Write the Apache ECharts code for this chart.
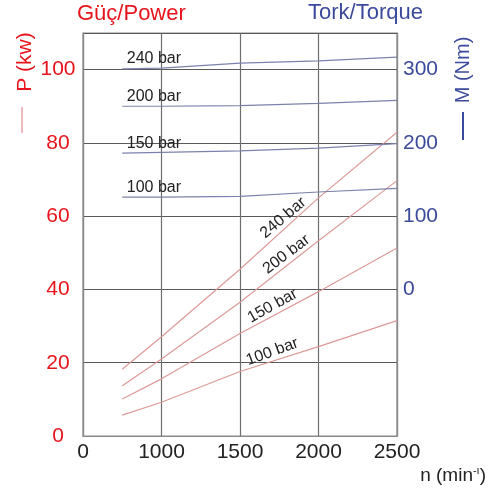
<!DOCTYPE html>
<html>
<head>
<meta charset="utf-8">
<script src="https://cdn.jsdelivr.net/npm/echarts@6/dist/echarts.min.js"></script>
<style>
  html, body { margin: 0; padding: 0; background: #fff; }
  #chart { width: 493px; height: 491px; }
</style>
</head>
<body>
<div id="chart"></div>
<script>
// Engine speed (min-1) at which each curve is read
const rpm = [750, 1000, 1500, 2000, 2500];

// Power curves, kW, one per working pressure
const power240 = [18.2, 27.1, 45.5, 65.0, 82.9];
const power200 = [13.7, 21.0, 36.5, 53.3, 69.7];
const power150 = [10.1, 15.6, 28.0, 39.4, 51.3];
const power100 = [5.7, 9.2, 17.6, 24.4, 31.5];

// Torque curves, Nm, one per working pressure
const torque240 = [301, 302, 309, 312, 317];
const torque200 = [250, 250, 251, 254, 258];
const torque150 = [186, 187, 189, 193, 199];
const torque100 = [126, 126, 127, 133, 138];

const pressureLabels = ['240 bar', '200 bar', '150 bar', '100 bar'];

// Axis ticks that carry a label
const rpmTicks = [500, 1000, 1500, 2000, 2500];
const rpmTickText = ['0', '1000', '1500', '2000', '2500'];
const powerTicks = [0, 20, 40, 60, 80, 100];
const torqueTicks = [0, 100, 200, 300];

// Where the slanted pressure labels sit along the power curves (rpm) and their angle
const powerLabelRpm = [1812, 1830, 1735, 1725];
const powerLabelAngle = [40, 37, 29, 20];

const FONT = '"Liberation Sans", Arial, sans-serif';
const RED = '#e8141c';
const BLUE = '#3c4a9c';
const POWER_LINE = '#dc9a98';
const TORQUE_LINE = '#7c82ac';

function interp(xs, ys, x) {
  for (let i = 0; i < xs.length - 1; i++) {
    if (x >= xs[i] && x <= xs[i + 1]) {
      const t = (x - xs[i]) / (xs[i + 1] - xs[i]);
      return ys[i] + t * (ys[i + 1] - ys[i]);
    }
  }
  return ys[ys.length - 1];
}

const powerSets = [power240, power200, power150, power100];
const torqueSets = [torque240, torque200, torque150, torque100];

const series = [];

powerSets.forEach((vals, i) => {
  const x = powerLabelRpm[i];
  series.push({
    type: 'line',
    name: 'P ' + pressureLabels[i],
    xAxisIndex: 0,
    yAxisIndex: 0,
    data: rpm.map((r, k) => [r, vals[k]]),
    showSymbol: false,
    symbol: 'none',
    lineStyle: { color: POWER_LINE, width: 1.2 },
    z: 3,
    silent: true,
    markPoint: {
      symbol: 'circle',
      symbolSize: 1,
      itemStyle: { color: 'rgba(0,0,0,0)' },
      silent: true,
      data: [{
        coord: [x, interp(rpm, vals, x)],
        label: {
          show: true,
          position: 'inside',
          rotate: powerLabelAngle[i],
          offset: [0, -9],
          formatter: pressureLabels[i],
          color: '#222',
          fontSize: 16,
          fontFamily: FONT
        }
      }]
    }
  });
});

torqueSets.forEach((vals, i) => {
  series.push({
    type: 'line',
    name: 'M ' + pressureLabels[i],
    xAxisIndex: 0,
    yAxisIndex: 1,
    data: rpm.map((r, k) => [r, vals[k]]),
    showSymbol: false,
    symbol: 'none',
    lineStyle: { color: TORQUE_LINE, width: 1.2 },
    z: 3,
    silent: true,
    markPoint: {
      symbol: 'circle',
      symbolSize: 1,
      itemStyle: { color: 'rgba(0,0,0,0)' },
      silent: true,
      data: [{
        coord: [rpm[0], vals[0]],
        label: {
          show: true,
          position: 'right',
          distance: 4,
          offset: [0, -10],
          formatter: pressureLabels[i],
          color: '#222',
          fontSize: 16,
          fontFamily: FONT
        }
      }]
    }
  });
});

const chart = echarts.init(document.getElementById('chart'), null, { renderer: 'canvas' });

chart.setOption({
  animation: false,
  backgroundColor: '#fff',
  grid: {
    left: 83, right: 96, top: 33, bottom: 55,
    show: true,
    borderColor: '#8a8a8a',
    borderWidth: 1.2,
    backgroundColor: '#fff'
  },
  xAxis: {
    type: 'value',
    min: rpmTicks[0],
    max: rpmTicks[rpmTicks.length - 1],
    interval: rpmTicks[1] - rpmTicks[0],
    axisLine: { show: true, lineStyle: { color: '#8a8a8a', width: 1.2 } },
    axisTick: { show: false },
    splitLine: { show: true, lineStyle: { color: '#6e6e6e', width: 1.2 } },
    axisLabel: {
      margin: 6,
      color: '#222',
      fontSize: 21,
      fontFamily: FONT,
      formatter: v => {
        const k = rpmTicks.indexOf(v);
        return k >= 0 ? rpmTickText[k] : '';
      }
    }
  },
  yAxis: [
    {
      type: 'value',
      min: 0,
      max: 110,
      interval: 20,
      axisLine: { show: true, lineStyle: { color: '#8a8a8a', width: 1.2 } },
      axisTick: { show: false },
      splitLine: { show: true, lineStyle: { color: '#5a5a5a', width: 1.2 } },
      axisLabel: {
        margin: 25,
        align: 'center',
        color: RED,
        fontSize: 21,
        fontFamily: FONT,
        formatter: v => (powerTicks.indexOf(v) >= 0 ? String(v) : '')
      }
    },
    {
      type: 'value',
      position: 'right',
      min: -200,
      max: 350,
      interval: 100,
      axisLine: { show: true, lineStyle: { color: '#8a8a8a', width: 1.2 } },
      axisTick: { show: false },
      splitLine: { show: false },
      axisLabel: {
        margin: 6,
        align: 'left',
        color: BLUE,
        fontSize: 21,
        fontFamily: FONT,
        formatter: v => (torqueTicks.indexOf(v) >= 0 ? String(v) : '')
      }
    }
  ],
  series: series,
  graphic: [
    {
      type: 'text', left: 77, top: 3, silent: true,
      style: { text: 'Güç/Power', fill: RED, font: '22px ' + FONT }
    },
    {
      type: 'text', left: 308, top: 2, silent: true,
      style: { text: 'Tork/Torque', fill: BLUE, font: '22px ' + FONT }
    },
    {
      type: 'text', x: 25, y: 62, rotation: Math.PI / 2, silent: true,
      style: { text: 'P (kw)', fill: RED, font: '21px ' + FONT, align: 'center', verticalAlign: 'middle' }
    },
    {
      type: 'line', silent: true,
      shape: { x1: 22, y1: 107, x2: 22, y2: 133 },
      style: { stroke: '#e2a4a4', lineWidth: 1.5 }
    },
    {
      type: 'text', x: 463, y: 70, rotation: Math.PI / 2, silent: true,
      style: { text: 'M (Nm)', fill: BLUE, font: '20px ' + FONT, align: 'center', verticalAlign: 'middle' }
    },
    {
      type: 'line', silent: true,
      shape: { x1: 463, y1: 112, x2: 463, y2: 140 },
      style: { stroke: BLUE, lineWidth: 2 }
    },
    {
      type: 'text', right: 7, top: 465, silent: true,
      style: {
        text: '{a|n (min}{s|-ı}{a|)}',
        rich: {
          a: { fontSize: 19, fontFamily: FONT, fill: '#222', color: '#222' },
          s: { fontSize: 11, fontFamily: FONT, fill: '#222', color: '#222', padding: [0, 0, 10, 0] }
        }
      }
    }
  ]
});
</script>
</body>
</html>
